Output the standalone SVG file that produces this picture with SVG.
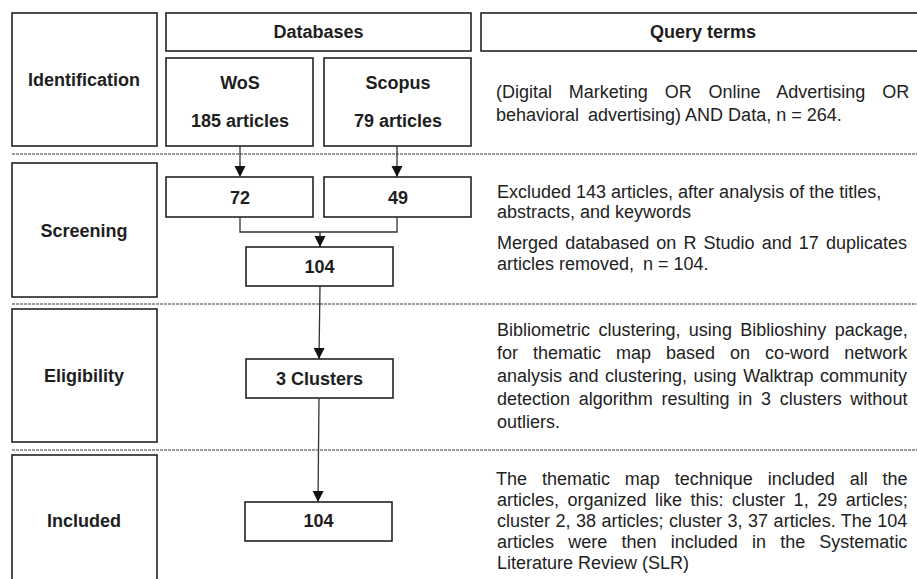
<svg xmlns="http://www.w3.org/2000/svg" width="917" height="579" viewBox="0 0 917 579">
  <style>
    .box { fill: #ffffff; stroke: #222222; stroke-width: 1.6; }
    .lbl { font-family: "Liberation Sans", Arial, sans-serif; font-size: 18px; font-weight: bold; fill: #1e1e1e; text-anchor: middle; }
    .body { font-family: "Liberation Sans", Arial, sans-serif; font-size: 18px; fill: #222222; }
    .sep { stroke: #9a9a9a; stroke-width: 2; stroke-dasharray: 3 1; fill: none; }
    .wire { stroke: #333333; stroke-width: 1.3; fill: none; }
  </style>
  <defs>
    <marker id="arrow" markerUnits="userSpaceOnUse" markerWidth="12" markerHeight="12" refX="11" refY="6" orient="auto">
      <path d="M0,0.5 L11,6 L0,11.5 Z" fill="#111111"/>
    </marker>
  </defs>

  <rect width="917" height="579" fill="#ffffff"/>

  <!-- phase separators -->
  <g id="separators">
    <line class="sep" x1="12" y1="154" x2="917" y2="154"/>
    <line class="sep" x1="12" y1="304" x2="917" y2="304"/>
    <line class="sep" x1="12" y1="450" x2="917" y2="450"/>
  </g>

  <!-- phase labels -->
  <g id="identification">
    <rect class="box" x="12" y="13" width="145" height="133"/>
    <text class="lbl" x="84" y="86">Identification</text>
  </g>
  <g id="screening">
    <rect class="box" x="12" y="163" width="145" height="134"/>
    <text class="lbl" x="84" y="237">Screening</text>
  </g>
  <g id="eligibility">
    <rect class="box" x="12" y="309" width="145" height="133"/>
    <text class="lbl" x="84" y="382">Eligibility</text>
  </g>
  <g id="included">
    <rect class="box" x="12" y="455" width="145" height="140"/>
    <text class="lbl" x="84" y="527">Included</text>
  </g>

  <!-- column headers -->
  <g id="databases">
    <rect class="box" x="166" y="13" width="305" height="38"/>
    <text class="lbl" x="318.5" y="38">Databases</text>
  </g>
  <g id="query-terms">
    <rect class="box" x="481" y="13" width="460" height="38"/>
    <text class="lbl" x="703" y="38">Query terms</text>
  </g>

  <!-- flow nodes -->
  <g id="wos">
    <rect class="box" x="166" y="58" width="147" height="88"/>
    <text class="lbl" x="240" y="89">WoS</text>
    <text class="lbl" x="240" y="127">185 articles</text>
  </g>
  <g id="scopus">
    <rect class="box" x="324" y="58" width="147" height="88"/>
    <text class="lbl" x="398" y="89">Scopus</text>
    <text class="lbl" x="398" y="127">79 articles</text>
  </g>
  <g id="wos-screened">
    <rect class="box" x="166" y="177" width="147" height="40"/>
    <text class="lbl" x="240" y="204">72</text>
  </g>
  <g id="scopus-screened">
    <rect class="box" x="324" y="177" width="147" height="40"/>
    <text class="lbl" x="398" y="204">49</text>
  </g>
  <g id="merged">
    <rect class="box" x="246" y="247" width="147" height="39"/>
    <text class="lbl" x="319.5" y="273">104</text>
  </g>
  <g id="clusters">
    <rect class="box" x="246" y="359" width="147" height="39"/>
    <text class="lbl" x="319.5" y="385">3 Clusters</text>
  </g>
  <g id="final">
    <rect class="box" x="245" y="502" width="147" height="39"/>
    <text class="lbl" x="318.5" y="527">104</text>
  </g>

  <!-- connectors -->
  <g id="connectors">
    <line class="wire" x1="240" y1="146" x2="240" y2="177" marker-end="url(#arrow)"/>
    <line class="wire" x1="397" y1="146" x2="397" y2="177" marker-end="url(#arrow)"/>
    <path class="wire" d="M240,217 V232 H397 V217"/>
    <line class="wire" x1="320" y1="232" x2="320" y2="247" marker-end="url(#arrow)"/>
    <line class="wire" x1="320" y1="286" x2="319" y2="359" marker-end="url(#arrow)"/>
    <line class="wire" x1="319" y1="398" x2="318" y2="502" marker-end="url(#arrow)"/>
  </g>

  <!-- descriptions -->
  <g id="query-text" class="body">
    <text x="496" y="98" word-spacing="11.8">(Digital Marketing OR Online Advertising OR</text>
    <text x="496" y="121">behavioral <tspan dx="4">advertising)</tspan> AND Data, n = 264.</text>
  </g>
  <g id="screening-text" class="body">
    <text x="497" y="198">Excluded 143 articles, after analysis of the titles,</text>
    <text x="497" y="218">abstracts, and keywords</text>
    <text x="497" y="249" word-spacing="2.1">Merged databased on R Studio and 17 duplicates</text>
    <text x="497" y="270">articles removed, <tspan dx="4">n = 104.</tspan></text>
  </g>
  <g id="eligibility-text" class="body">
    <text x="497" y="336" word-spacing="3.4">Bibliometric clustering, using Biblioshiny package,</text>
    <text x="497" y="359" word-spacing="10">for thematic map based on co-word network</text>
    <text x="497" y="382" word-spacing="1.5">analysis and clustering, using Walktrap community</text>
    <text x="497" y="405" word-spacing="3.7">detection algorithm resulting in 3 clusters without</text>
    <text x="497" y="428">outliers.</text>
  </g>
  <g id="included-text" class="body">
    <text x="496" y="485" word-spacing="9.9">The thematic map technique included all the</text>
    <text x="497" y="506" word-spacing="3.5">articles, organized like this: cluster 1, 29 articles;</text>
    <text x="497" y="527" word-spacing="0.5">cluster 2, 38 articles; cluster 3, 37 articles. The 104</text>
    <text x="497" y="548" word-spacing="9.2">articles were then included in the Systematic</text>
    <text x="497" y="569">Literature Review (SLR)</text>
  </g>
</svg>
